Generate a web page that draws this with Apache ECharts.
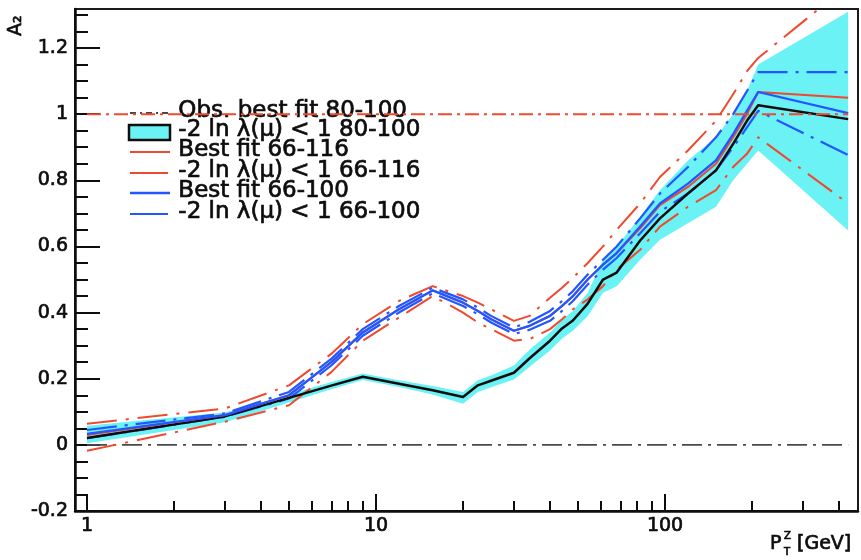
<!DOCTYPE html>
<html>
<head>
<meta charset="utf-8">
<script src="https://cdn.jsdelivr.net/npm/echarts@6/dist/echarts.min.js"></script>
<style>
html, body { margin: 0; padding: 0; background: #fff; }
#chart { width: 861px; height: 560px; }
</style>
</head>
<body>
<div id="chart"></div>
<script>
// Z transverse momentum points (GeV)
const ptBins = [1, 3, 5, 7, 9, 12, 15.7, 20, 22.5, 25, 30, 34, 40, 44, 48, 54, 61, 68, 82, 96, 120, 150, 172, 192, 210, 430];

// Observed best fit, 80-100, with its -2 ln lambda(mu) < 1 band
const obsBest     = [0.021, 0.086, 0.142, 0.179, 0.206, 0.185, 0.165, 0.145, 0.180, 0.194, 0.218, 0.262, 0.315, 0.352, 0.376, 0.427, 0.500, 0.521, 0.618, 0.685, 0.760, 0.830, 0.910, 0.980, 1.027, 0.985];
const obsBandLow  = [0.005, 0.068, 0.128, 0.168, 0.196, 0.175, 0.152, 0.124, 0.160, 0.174, 0.198, 0.236, 0.285, 0.322, 0.345, 0.390, 0.460, 0.480, 0.560, 0.620, 0.670, 0.720, 0.800, 0.850, 0.890, 0.648];
const obsBandHigh = [0.058, 0.098, 0.152, 0.190, 0.216, 0.195, 0.178, 0.160, 0.195, 0.210, 0.240, 0.288, 0.340, 0.378, 0.405, 0.460, 0.560, 0.600, 0.690, 0.770, 0.860, 0.930, 1.000, 1.070, 1.150, 1.310];

// Best fit 66-116 and its interval
const fit66to116     = [0.030, 0.090, 0.150, 0.250, 0.340, 0.410, 0.467, 0.430, 0.405, 0.380, 0.345, 0.360, 0.390, 0.420, 0.450, 0.500, 0.545, 0.580, 0.655, 0.725, 0.780, 0.850, 0.930, 1.000, 1.067, 1.050];
const fit66to116Low  = [-0.018, 0.070, 0.120, 0.220, 0.315, 0.385, 0.450, 0.400, 0.370, 0.350, 0.315, 0.320, 0.350, 0.380, 0.410, 0.440, 0.480, 0.530, 0.590, 0.660, 0.720, 0.770, 0.840, 0.880, 0.930, 0.730];
const fit66to116High = [0.064, 0.110, 0.180, 0.275, 0.365, 0.435, 0.480, 0.450, 0.430, 0.410, 0.375, 0.390, 0.445, 0.475, 0.505, 0.550, 0.600, 0.650, 0.730, 0.810, 0.890, 0.980, 1.060, 1.130, 1.170, 1.390];

// Best fit 66-100 and its interval
const fit66to100     = [0.033, 0.090, 0.150, 0.250, 0.340, 0.410, 0.467, 0.430, 0.405, 0.380, 0.345, 0.360, 0.390, 0.420, 0.450, 0.500, 0.545, 0.580, 0.660, 0.730, 0.790, 0.860, 0.940, 1.010, 1.067, 1.003];
const fit66to100Low  = [0.020, 0.085, 0.140, 0.240, 0.330, 0.400, 0.458, 0.420, 0.395, 0.370, 0.335, 0.348, 0.375, 0.405, 0.435, 0.485, 0.530, 0.565, 0.640, 0.705, 0.760, 0.830, 0.900, 0.960, 1.010, 0.876];
const fit66to100High = [0.045, 0.095, 0.160, 0.260, 0.350, 0.420, 0.475, 0.440, 0.415, 0.390, 0.355, 0.372, 0.405, 0.435, 0.465, 0.515, 0.560, 0.600, 0.685, 0.760, 0.840, 0.930, 1.000, 1.070, 1.127, 1.127];

// Horizontal reference levels and their x span
const refLineX = [1, 430];
const refLevels = [0, 1];

// Axis ticks
const xMajorTicks = [1, 10, 100];
const xMinorTicks = [2, 3, 4, 5, 6, 7, 8, 9, 20, 30, 40, 50, 60, 70, 80, 90, 200, 300, 400];
const yMajorTicks = [-0.2, 0, 0.2, 0.4, 0.6, 0.8, 1, 1.2];
const yMinorTicks = [-0.15, -0.1, -0.05, 0.05, 0.1, 0.15, 0.25, 0.3, 0.35, 0.45, 0.5, 0.55, 0.65, 0.7, 0.75, 0.85, 0.9, 0.95, 1.05, 1.1, 1.15, 1.25, 1.3];

const legendLabels = [
  'Obs. best fit 80-100',
  '-2 ln \u03bb(\u03bc) < 1 80-100',
  'Best fit 66-116',
  '-2 ln \u03bb(\u03bc) < 1 66-116',
  'Best fit 66-100',
  '-2 ln \u03bb(\u03bc) < 1 66-100'
];

const RED = '#ee4a2e';
const BLUE = '#2356ff';
const CYAN = '#6af2f5';
const INK = '#0d0d0d';
const FONT = 'DejaVu Sans';
const HEAVY = 0.7; // stroke added round glyphs for a heavier print look

const X_MIN = 0.909, X_MAX = 465, Y_MIN = -0.2, Y_MAX = 1.318;

function pairs(xs, ys) { return xs.map((x, i) => [x, ys[i]]); }

function curve(name, ys, color, width, type, z) {
  return {
    name: name, type: 'line', data: pairs(ptBins, ys),
    symbol: 'none', silent: true, z: z,
    lineStyle: { color: color, width: width, type: type, cap: 'butt', join: 'round' }
  };
}

function textStyle(txt, size) {
  return { text: txt, fill: INK, font: size + 'px "' + FONT + '"', stroke: INK, lineWidth: HEAVY };
}

const chart = echarts.init(document.getElementById('chart'), null, { renderer: 'canvas' });

const xAxisBase = {
  type: 'log', logBase: 10, min: X_MIN, max: X_MAX, position: 'bottom',
  splitLine: { show: false }, minorTick: { show: false }
};
const yAxisBase = {
  type: 'value', min: Y_MIN, max: Y_MAX, position: 'left',
  splitLine: { show: false }, minorTick: { show: false }
};

const legendRowsY = [113, 132, 152, 173, 193, 214];
const legendGraphics = [];
legendLabels.forEach((txt, i) => {
  legendGraphics.push({ type: 'text', left: 178, top: legendRowsY[i] - 14, style: textStyle(txt, 23) });
});
legendGraphics.push(
  { type: 'line', shape: { x1: 130, y1: legendRowsY[0], x2: 170, y2: legendRowsY[0] },
    style: { stroke: INK, lineWidth: 1.5, lineDash: [6, 4, 2, 4] } },
  { type: 'rect', shape: { x: 129, y: legendRowsY[1] - 7, width: 41, height: 15 },
    style: { fill: CYAN, stroke: INK, lineWidth: 2.5 } },
  { type: 'line', shape: { x1: 130, y1: legendRowsY[2], x2: 170, y2: legendRowsY[2] },
    style: { stroke: RED, lineWidth: 2 } },
  { type: 'line', shape: { x1: 130, y1: legendRowsY[3], x2: 168, y2: legendRowsY[3] },
    style: { stroke: RED, lineWidth: 2 } },
  { type: 'line', shape: { x1: 130, y1: legendRowsY[4], x2: 170, y2: legendRowsY[4] },
    style: { stroke: BLUE, lineWidth: 2.5 } },
  { type: 'line', shape: { x1: 130, y1: legendRowsY[5], x2: 168, y2: legendRowsY[5] },
    style: { stroke: BLUE, lineWidth: 2 } }
);

// Axis titles
const titleGraphics = [
  { type: 'text', x: 7, y: 36, rotation: Math.PI / 2, style: textStyle('A\u2082', 19) },
  { type: 'text', x: 770, y: 535, style: textStyle('P', 19) },
  { type: 'text', x: 784, y: 531, style: textStyle('Z', 10) },
  { type: 'text', x: 784, y: 547, style: textStyle('T', 10) },
  { type: 'text', x: 797, y: 535, style: textStyle('[GeV]', 19) }
];

const axisLabelBase = {
  show: true, color: INK, fontFamily: FONT, fontSize: 19,
  textBorderColor: INK, textBorderWidth: HEAVY
};

const option = {
  animation: false,
  backgroundColor: '#fff',
  grid: {
    left: 75, right: 3, top: 9, bottom: 49,
    show: true, borderColor: '#1a1a1a', borderWidth: 2, backgroundColor: 'transparent'
  },
  xAxis: [
    Object.assign({}, xAxisBase, {
      axisLine: { show: true, onZero: false, lineStyle: { color: INK, width: 2.5 } },
      axisTick: { show: true, inside: true, length: 17, customValues: xMajorTicks, lineStyle: { color: INK, width: 2 } },
      axisLabel: Object.assign({}, axisLabelBase, { customValues: xMajorTicks, margin: 6,
        formatter: v => String(Math.round(v)) })
    }),
    Object.assign({}, xAxisBase, {
      axisLine: { show: false, onZero: false },
      axisTick: { show: true, inside: true, length: 10, customValues: xMinorTicks, lineStyle: { color: INK, width: 2 } },
      axisLabel: { show: false }
    })
  ],
  yAxis: [
    Object.assign({}, yAxisBase, {
      axisLine: { show: true, onZero: false, lineStyle: { color: INK, width: 2.5 } },
      axisTick: { show: true, inside: true, length: 25, customValues: yMajorTicks, lineStyle: { color: INK, width: 2 } },
      axisLabel: Object.assign({}, axisLabelBase, { customValues: yMajorTicks, margin: 7,
        formatter: v => String(Math.round(v * 10) / 10) })
    }),
    Object.assign({}, yAxisBase, {
      axisLine: { show: false, onZero: false },
      axisTick: { show: true, inside: true, length: 13, customValues: yMinorTicks, lineStyle: { color: INK, width: 2 } },
      axisLabel: { show: false }
    })
  ],
  graphic: legendGraphics.concat(titleGraphics),
  series: [
    {
      name: '-2 ln lambda < 1 80-100', type: 'custom', silent: true, z: 1,
      data: [[ptBins[0], obsBest[0]]],
      renderItem: function (params, api) {
        const pts = [];
        for (let i = 0; i < ptBins.length; i++) pts.push(api.coord([ptBins[i], obsBandHigh[i]]));
        for (let i = ptBins.length - 1; i >= 0; i--) pts.push(api.coord([ptBins[i], obsBandLow[i]]));
        return { type: 'polygon', shape: { points: pts }, style: { fill: CYAN } };
      }
    },
    {
      name: 'zero', type: 'line', silent: true, symbol: 'none', z: 2,
      data: pairs(refLineX, [refLevels[0], refLevels[0]]),
      lineStyle: { color: '#4a4a4a', width: 1.8, type: [20, 6, 3, 6] }
    },
    curve('66-116 low', fit66to116Low, RED, 2, [30, 9, 3, 9], 3),
    curve('66-116 high', fit66to116High, RED, 2, [30, 9, 3, 9], 3),
    curve('66-100 low', fit66to100Low, BLUE, 2.2, [30, 8, 3, 8], 4),
    curve('66-100 high', fit66to100High, BLUE, 2.2, [30, 8, 3, 8], 4),
    curve('Obs. best fit 80-100', obsBest, INK, 2.5, 'solid', 5),
    curve('Best fit 66-116', fit66to116, RED, 2, 'solid', 6),
    curve('Best fit 66-100', fit66to100, BLUE, 2.3, 'solid', 7),
    {
      name: 'one', type: 'line', silent: true, symbol: 'none', z: 8,
      data: pairs(refLineX, [refLevels[1], refLevels[1]]),
      lineStyle: { color: RED, width: 2, type: [14, 5, 3, 5] }
    }
  ]
};

chart.setOption(option);
</script>
</body>
</html>
